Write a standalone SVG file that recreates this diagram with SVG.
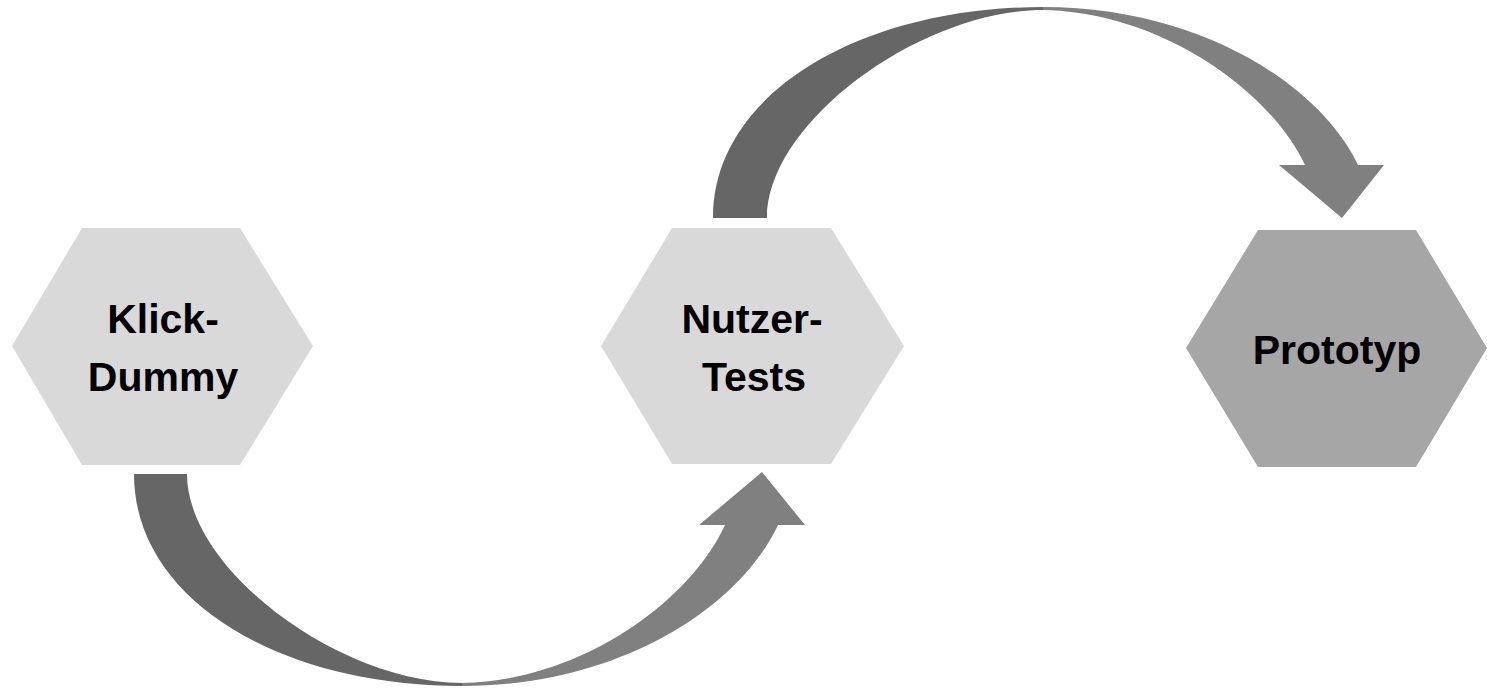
<svg xmlns="http://www.w3.org/2000/svg" width="1487" height="688" viewBox="0 0 1487 688">
<style>
.hexA{fill:#d9d9d9}
.hexB{fill:#a6a6a6}
.dark{fill:#666666}
.mid{fill:#808080}
.lbl{font-family:"Liberation Sans",Arial,sans-serif;font-weight:bold;font-size:41px;fill:#000;text-anchor:middle}
</style>
<rect width="1487" height="688" fill="#ffffff"/>
<g id="connectors">
<g id="arrow-bottom">
<path class="dark" d="M134,474 L187,474 C187,570 340,683 462,683 L462,686 C280,686 134,600 134,474 Z"/>
<path class="mid" d="M462,683 C579,681 689,603 725,525 L699,525 L762,472 L805,525 L778,525 C739,608 619,686 462,686 Z"/>
</g>
<g id="arrow-top">
<path class="dark" d="M713,218 L767,218 C767,122 921,10 1043,10 L1043,7 C861,7 713,93 713,218 Z"/>
<path class="mid" d="M1043,10 C1160,12 1270,90 1305,165 L1279,165 L1342,218 L1384,165 L1358,165 C1320,85 1200,7 1043,7 Z"/>
</g>
</g>
<g id="node-klick-dummy">
<polygon class="hexA" points="82,228 240,228 313,346 240,465 82,465 12,346"/>
<text class="lbl" x="163" y="333">Klick-</text>
<text class="lbl" x="163" y="391">Dummy</text>
</g>
<g id="node-nutzer-tests">
<polygon class="hexA" points="672,228 831,228 904,346 831,464 672,464 601,346"/>
<text class="lbl" x="752" y="333">Nutzer-</text>
<text class="lbl" x="754" y="391">Tests</text>
</g>
<g id="node-prototyp">
<polygon class="hexB" points="1258,230 1416,230 1487,348 1416,467 1258,467 1186,348"/>
<text class="lbl" x="1337" y="364">Prototyp</text>
</g>
</svg>
